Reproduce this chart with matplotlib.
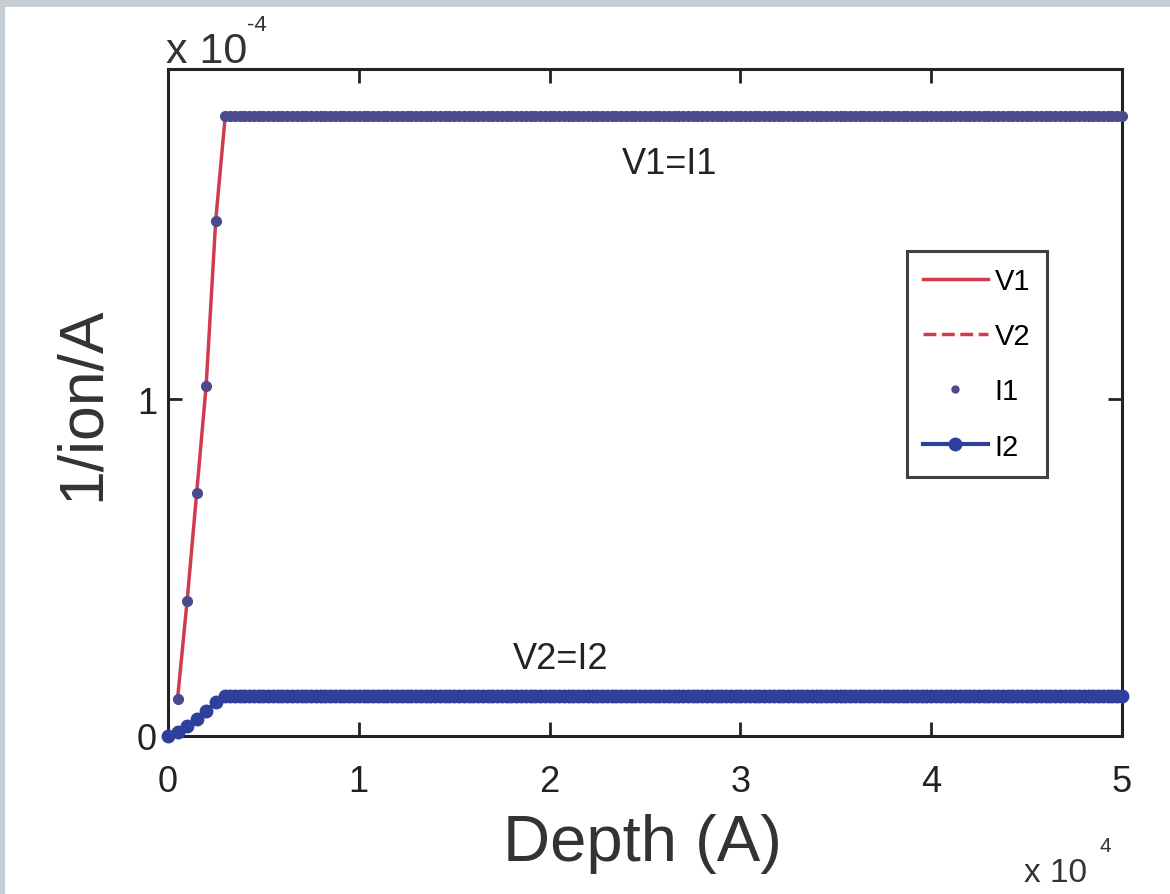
import numpy as np
import matplotlib.pyplot as plt
from matplotlib.ticker import FuncFormatter
from matplotlib.patches import Rectangle

plt.rcParams['font.family'] = ['Liberation Sans', 'DejaVu Sans']

# depth sampling (A): coarse on the ramp, fine on the plateau
ramp_depth = [0, 500, 1000, 1500, 2000, 2500]
flat_depth = np.arange(3000, 50001, 250)

# values (units of 1/ion/A)
i1_ramp = [0.0, 0.11e-4, 0.40e-4, 0.72e-4, 1.04e-4, 1.53e-4]
i1_plateau = 1.84e-4
i2_ramp = [0.0, 0.012e-4, 0.03e-4, 0.05e-4, 0.074e-4, 0.10e-4]
i2_plateau = 0.118e-4

depth = np.concatenate([ramp_depth, flat_depth])
n_flat = len(flat_depth)
v1 = np.array(i1_ramp + [i1_plateau] * n_flat)
i1 = v1.copy()
v2 = np.array(i2_ramp + [i2_plateau] * n_flat)
i2 = v2.copy()

red = '#d23a4e'
navy = '#4a4a8c'
blue = '#2f3f9c'

fig = plt.figure(figsize=(11.7, 8.95), dpi=100)
fig.patch.set_facecolor('#c6ced4')
fig.patches.append(Rectangle((5 / 1170, 0), 1, 1 - 8 / 895, transform=fig.transFigure,
                             facecolor='white', edgecolor='none', zorder=-10))

ax = fig.add_axes([168 / 1170, 1 - 737 / 895, (1122 - 168) / 1170, (737 - 70) / 895])
ax.plot(depth[1:], v1[1:], '-', color=red, lw=2.5, label='V1', zorder=3)
ax.plot(depth, v2, '--', color=red, lw=2.5, label='V2', zorder=2)
ax.plot(depth[1:], i1[1:], 'o', color=navy, ms=7, label='I1', zorder=4, clip_on=False)
ax.plot(depth, i2, '-o', color=blue, lw=3, ms=9, label='I2', zorder=4, clip_on=False)

ax.set_xlim(0, 5e4)
ax.set_ylim(0, 1.98e-4)
ax.set_xticks([0, 1e4, 2e4, 3e4, 4e4, 5e4])
ax.set_yticks([0, 1e-4])
ax.xaxis.set_major_formatter(FuncFormatter(lambda v, p: '%g' % round(v / 1e4, 6)))
ax.yaxis.set_major_formatter(FuncFormatter(lambda v, p: '%g' % round(v / 1e-4, 6)))
ax.tick_params(direction='in', length=10, width=2, labelsize=26, top=True, right=True,
               colors='#222222')
ax.tick_params(axis='x', pad=20)
ax.tick_params(axis='y', pad=8)
for s in ax.spines.values():
    s.set_linewidth(2.2)
    s.set_color('#222222')

ax.set_xlabel('Depth (A)', fontsize=47, color='#333333')
ax.xaxis.set_label_coords(0.497, -0.115)
ax.set_ylabel('1/ion/A', fontsize=45, color='#333333')
ax.yaxis.set_label_coords(-0.059, 0.5)

fig.text(166 / 1170, 1 - 63 / 895, 'x 10', fontsize=31, color='#333333', ha='left', va='baseline')
fig.text(247 / 1170, 1 - 31 / 895, '-4', fontsize=16, color='#333333', ha='left', va='baseline')
fig.text(1024 / 1170, 1 - 882 / 895, 'x 10', fontsize=24, color='#333333', ha='left', va='baseline')
fig.text(1099 / 1170, 1 - 852 / 895, '4', fontsize=15, color='#333333', ha='left', va='baseline')

ax.text(2.63e4, 1.70e-4, 'V1=I1', fontsize=26, color='#222222', ha='center', va='center')
ax.text(2.06e4, 0.23e-4, 'V2=I2', fontsize=26, color='#222222', ha='center', va='center')

leg = ax.legend(loc='upper left', bbox_to_anchor=(0.775, 0.727), fontsize=21, frameon=True,
                fancybox=False, edgecolor='#111111', handlelength=2.2, handletextpad=0.25,
                labelspacing=0.93, borderpad=0.55, borderaxespad=0)
leg.get_frame().set_linewidth(2.2)
leg.legend_handles[2].set_markersize(5)
leg.legend_handles[3].set_markersize(9)

fig.savefig('out.png', dpi=100, facecolor=fig.get_facecolor())
